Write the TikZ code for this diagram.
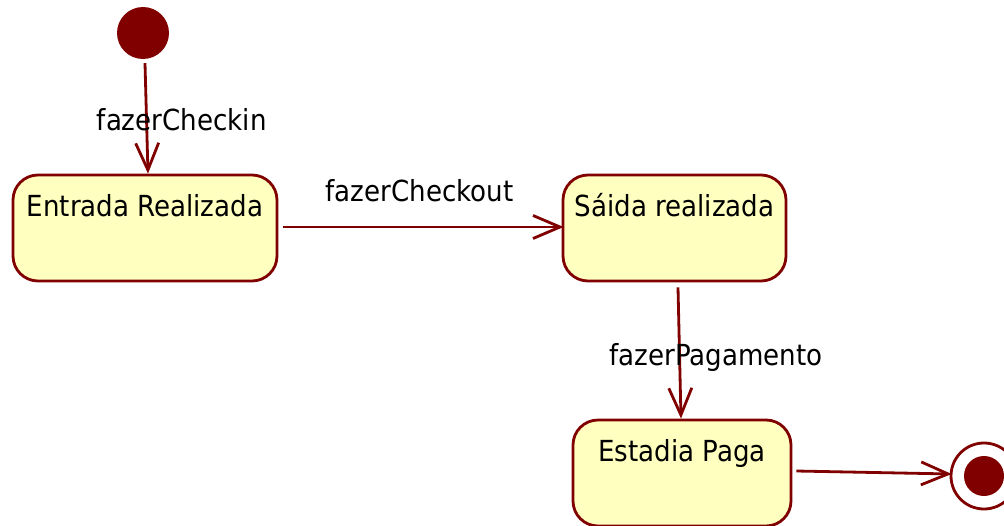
\documentclass[tikz,border=0pt]{standalone}
\usepackage{fontspec}
\setmainfont{DejaVu Sans Condensed}
\usetikzlibrary{arrows.meta}
\definecolor{umlred}{RGB}{128,0,0}
\definecolor{umlfill}{RGB}{255,255,192}
\tikzset{
  statebox/.style={draw=umlred, fill=umlfill, line width=2.8pt, rounded corners=25pt,
    inner xsep=0pt, inner ysep=0pt, text height=41.7pt, text depth=64.3pt,
    font=\fontsize{29}{34}\selectfont, text=black},
  trans/.style={draw=umlred, line width=2.8pt, -{Straight Barb[length=27pt,width=23pt]}},
  translabel/.style={anchor=base, inner sep=0pt, font=\fontsize{29}{34}\selectfont, text=black}
}
\begin{document}
\begin{tikzpicture}[x=1pt,y=-1pt]
\useasboundingbox (0,0) rectangle (1004,525);
% initial state
\node[circle, fill=umlred, minimum size=52pt, inner sep=0pt] (init) at (143,33) {};
% states
\node[statebox, minimum width=264pt] (entrada) at (145,228) {Entrada Realizada};
\node[statebox, minimum width=223pt] (saida) at (674.5,228) {Sáida realizada};
\node[statebox, minimum width=218pt] (estadia) at (682,473) {Estadia Paga};
% final state
\node[circle, draw=umlred, fill=white, line width=2.8pt, minimum size=66pt, inner sep=0pt] (final) at (984,476) {};
\node[circle, fill=umlred, minimum size=40pt, inner sep=0pt] (finalin) at (final.center) {};
% transitions
\draw[trans] ([xshift=2pt,yshift=-4pt]init.south) -- ([xshift=3pt]entrada.north);
\draw[trans] ([xshift=5pt,yshift=1pt]entrada.east) -- ([xshift=2pt,yshift=1pt]saida.west);
\draw[trans] ([xshift=3.5pt,yshift=-5pt]saida.south) -- ([xshift=-1pt]estadia.north);
\draw[trans] ([xshift=4pt,yshift=2pt]estadia.east) -- ([xshift=2pt,yshift=2pt]final.west);
% labels
\node[translabel] (lcheckin) at (181.7,130) {fazerCheckin};
\node[translabel] (lcheckout) at (419.5,201.7) {fazerCheckout};
\node[translabel] (lpag) at (716,365) {fazerPagamento};
\end{tikzpicture}
\end{document}
